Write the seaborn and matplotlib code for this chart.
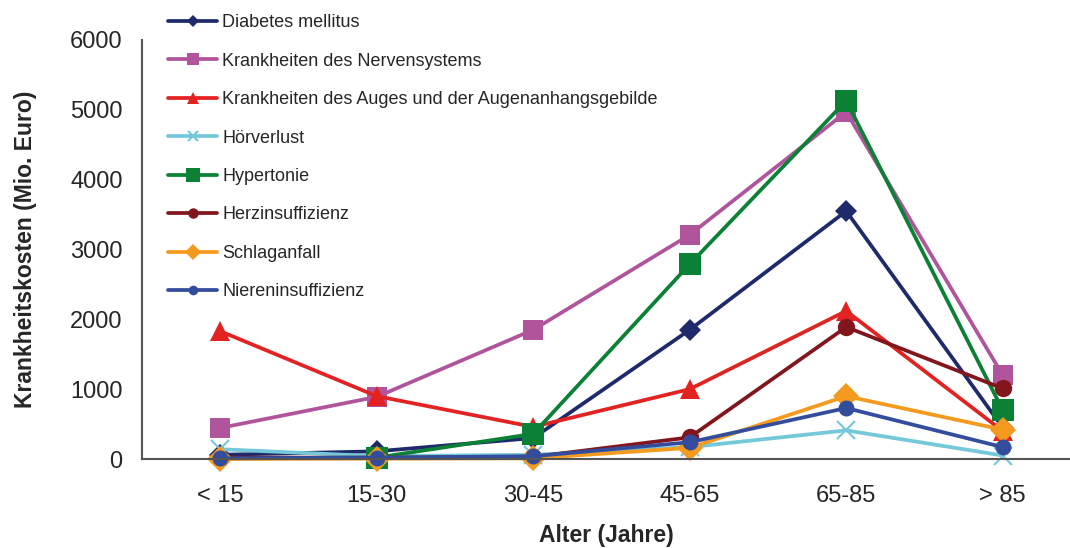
import matplotlib
matplotlib.use('Agg')
import matplotlib.pyplot as plt
import seaborn as sns
import pandas as pd
import numpy as np
from matplotlib.ticker import FixedLocator

# Altersgruppen
alter = ['< 15', '15-30', '30-45', '45-65', '65-85', '> 85']

# Krankheitskosten in Mio. Euro
diabetes = [60, 110, 300, 1850, 3550, 450]
nerven = [445, 890, 1850, 3210, 4970, 1200]
auge = [1830, 900, 460, 1000, 2120, 400]
hoer = [140, 40, 60, 170, 410, 50]
hypertonie = [np.nan, 20, 360, 2790, 5130, 700]
herz = [20, 20, 30, 310, 1890, 1010]
schlag = [0, 5, 10, 160, 900, 420]
niere = [10, 20, 40, 240, 730, 170]

namen = ['Diabetes mellitus', 'Krankheiten des Nervensystems',
         'Krankheiten des Auges und der Augenanhangsgebilde', 'Hörverlust',
         'Hypertonie', 'Herzinsuffizienz', 'Schlaganfall', 'Niereninsuffizienz']
werte = [diabetes, nerven, auge, hoer, hypertonie, herz, schlag, niere]

farben = ['#1f2a6b', '#b0559b', '#e32322', '#74c8d9', '#0a8135', '#82161d', '#f39a1f', '#334d9c']
marker = ['D', 's', '^', 'x', 's', 'o', 'D', 'o']
msize = [11, 14, 15, 13, 16, 12.5, 13, 11.5]

sns.set_style('white')
plt.rcParams['font.family'] = ['Liberation Sans', 'DejaVu Sans']

fig = plt.figure(figsize=(10.7, 5.48), dpi=100)
ax = fig.add_axes([142 / 1070, 89 / 548, 1 - 142 / 1070, 419 / 548])

for name, vals, col, m, ms in zip(namen, werte, farben, marker, msize):
    df = pd.DataFrame({'x': np.arange(len(alter)), 'y': vals}).dropna()
    sns.lineplot(data=df, x='x', y='y', ax=ax, color=col, marker=m, markersize=ms,
                 markeredgecolor=col, markeredgewidth=1.5 if m == 'x' else 0,
                 linewidth=2.7, label=name, sort=False, clip_on=False)

ax.set_xlim(-0.5, 5.43)
ax.set_ylim(0, 6000)
ax.set_yticks(range(0, 6001, 1000))
ax.set_xticks(range(len(alter)))
ax.set_xticklabels(alter)
ax.xaxis.set_minor_locator(FixedLocator(np.arange(-0.5, 5.6, 1)))
ax.tick_params(axis='x', which='major', length=0, pad=19, labelsize=17)
ax.tick_params(axis='x', which='minor', length=8, width=1.2, color='#555555', direction='out')
ax.tick_params(axis='y', length=8, width=1.2, color='#555555', direction='out', labelsize=17, pad=6)

for s in ['top', 'right']:
    ax.spines[s].set_visible(False)
for s in ['left', 'bottom']:
    ax.spines[s].set_color('#555555')
    ax.spines[s].set_linewidth(1.5)

ax.set_xlabel('Alter (Jahre)', fontsize=16.5, fontweight='bold', labelpad=12)
ax.set_ylabel('Krankheitskosten (Mio. Euro)', fontsize=16.5, fontweight='bold', labelpad=24)

leg = ax.legend(loc='upper left', bbox_to_anchor=(152 / 1070, 1.004), bbox_transform=fig.transFigure,
                frameon=False, fontsize=13, markerscale=0.6, handlelength=2.7,
                labelspacing=1.19, handletextpad=0.3)

fig.savefig('out.png', dpi=100)
